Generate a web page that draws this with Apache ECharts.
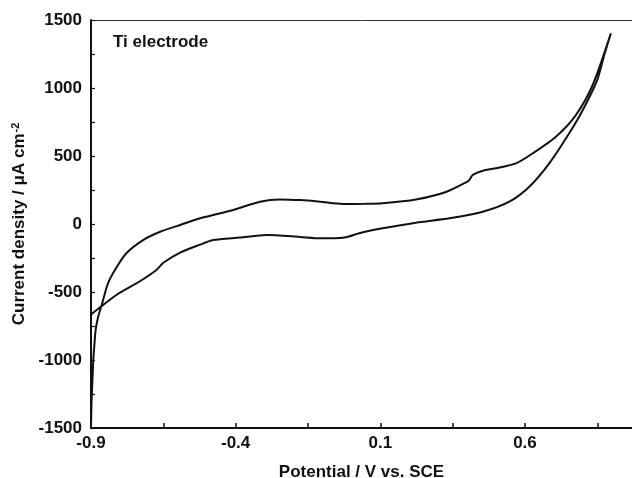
<!DOCTYPE html>
<html>
<head>
<meta charset="utf-8">
<script src="https://cdn.jsdelivr.net/npm/echarts@6/dist/echarts.min.js"></script>
<style>html,body{margin:0;padding:0;background:#fff;}#c{width:632px;height:478px;}</style>
</head>
<body>
<div id="c"></div>
<script>
// Anodic (forward) scan
var anodicPotential = [-0.900, -0.898, -0.895, -0.892, -0.888, -0.884, -0.875, -0.863, -0.841, -0.811, -0.777, -0.720, -0.661, -0.592, -0.523, -0.409, -0.316, -0.247, -0.178, -0.108, -0.030, 0.050, 0.108, 0.223, 0.327, 0.400, 0.408, 0.419, 0.460, 0.500, 0.569, 0.627, 0.707, 0.776, 0.834, 0.897];
var anodicCurrent   = [-1500, -1300, -1150, -1000, -880, -779, -680, -596, -434, -316, -213, -118, -57, -7, 42, 103, 164, 181, 176, 164, 147, 148, 152, 180, 235, 310, 324, 360, 395, 410, 446, 520, 642, 801, 1022, 1402];
// Cathodic (reverse) scan
var cathodicPotential = [0.897, 0.875, 0.850, 0.800, 0.753, 0.684, 0.615, 0.546, 0.454, 0.339, 0.223, 0.108, 0.027, -0.019, -0.076, -0.108, -0.178, -0.293, -0.385, -0.478, -0.523, -0.592, -0.650, -0.673, -0.731, -0.811, -0.863, -0.900];
var cathodicCurrent   = [1402, 1250, 1060, 838, 667, 446, 274, 164, 90, 42, 10, -32, -68, -98, -105, -105, -95, -81, -100, -118, -152, -210, -285, -336, -421, -520, -603, -665];
var xTicks = [-0.9, -0.4, 0.1, 0.6];
var xMinorTicks = [-0.65, -0.15, 0.35, 0.85];
var yTicks = [-1500, -1000, -500, 0, 500, 1000, 1500];
var yMinorTicks = [-1250, -750, -250, 250, 750, 1250];

var FONT = "'Liberation Sans', Arial, Helvetica, sans-serif";
var loop = [];
anodicPotential.forEach(function (x, i) { loop.push([x, anodicCurrent[i]]); });
cathodicPotential.forEach(function (x, i) { if (i > 0) loop.push([x, cathodicCurrent[i]]); });

var chart = echarts.init(document.getElementById('c'), null, {renderer: 'canvas'});
chart.setOption({
  animation: false,
  backgroundColor: '#fff',
  title: {
    text: 'Ti electrode', left: 113, top: 34, padding: 0,
    textStyle: {fontFamily: FONT, fontSize: 17, fontWeight: 'bold', color: '#111'}
  },
  grid: {left: 91, top: 20, right: 0, bottom: 50, show: false, containLabel: false, outerBoundsMode: 'none'},
  xAxis: [{
    type: 'value', min: -0.9, max: 0.97, interval: 0.5,
    name: 'Potential / V vs. SCE', nameLocation: 'middle', nameGap: 36,
    nameTextStyle: {fontFamily: FONT, fontSize: 17, fontWeight: 'bold', color: '#111'},
    axisLine: {show: true, onZero: false, lineStyle: {color: '#111', width: 2}},
    axisTick: {show: true, inside: true, length: 5, customValues: xTicks.concat(xMinorTicks), lineStyle: {color: '#111', width: 1.5}},
    splitLine: {show: false},
    axisLabel: {
      fontFamily: FONT, fontSize: 17, fontWeight: 'bold', color: '#111', margin: 7,
      customValues: xTicks,
      formatter: function (v) { return v.toFixed(1); }
    }
  }, {
    type: 'value', position: 'top', min: -0.9, max: 0.97,
    axisLine: {show: true, onZero: false, lineStyle: {color: '#333', width: 1}},
    axisTick: {show: false}, axisLabel: {show: false}, splitLine: {show: false}
  }],
  yAxis: {
    type: 'value', min: -1500, max: 1500, interval: 500,
    name: '{a|Current density / μA cm}{s|-2}', nameLocation: 'middle', nameGap: 60,
    nameTextStyle: {
      fontFamily: FONT, fontSize: 17, fontWeight: 'bold', color: '#111',
      rich: {
        a: {fontFamily: FONT, fontSize: 17, fontWeight: 'bold', color: '#111'},
        s: {fontFamily: FONT, fontSize: 11, fontWeight: 'bold', color: '#111', verticalAlign: 'top', padding: [0, 0, 6, 1]}
      }
    },
    axisLine: {show: true, onZero: false, lineStyle: {color: '#111', width: 2}},
    axisTick: {show: true, inside: true, length: 4, customValues: yTicks.concat(yMinorTicks), lineStyle: {color: '#111', width: 1.2}},
    splitLine: {show: false},
    axisLabel: {
      fontFamily: FONT, fontSize: 17, fontWeight: 'bold', color: '#111', margin: 9,
      customValues: yTicks,
      formatter: function (v) { return String(v); }
    }
  },
  series: [{
    type: 'line', xAxisIndex: 0, data: loop, showSymbol: false, smooth: 0.25,
    lineStyle: {color: '#111', width: 2}
  }]
});
</script>
</body>
</html>
